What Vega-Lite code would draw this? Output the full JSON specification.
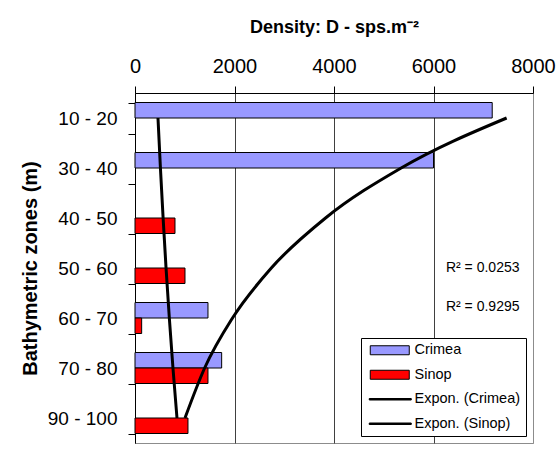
{
  "$schema": "https://vega.github.io/schema/vega-lite/v6.json",
  "width": 398,
  "height": 350,
  "autosize": {"type": "none"},
  "padding": {"left": 135, "top": 93, "right": 24, "bottom": 15},
  "background": "white",
  "config": {
    "view": {"stroke": "#8c8c8c", "strokeWidth": 1},
    "font": "Liberation Sans"
  },
  "layer": [
    {
      "data": {
        "values": [
          {"zone": "10 - 20", "site": "Crimea", "density": 7180},
          {"zone": "30 - 40", "site": "Crimea", "density": 6000},
          {"zone": "60 - 70", "site": "Crimea", "density": 1467},
          {"zone": "70 - 80", "site": "Crimea", "density": 1742},
          {"zone": "40 - 50", "site": "Sinop", "density": 804},
          {"zone": "50 - 60", "site": "Sinop", "density": 1005},
          {"zone": "60 - 70", "site": "Sinop", "density": 134},
          {"zone": "70 - 80", "site": "Sinop", "density": 1467},
          {"zone": "90 - 100", "site": "Sinop", "density": 1065}
        ]
      },
      "mark": {"type": "bar", "stroke": "black", "strokeWidth": 1},
      "encoding": {
        "y": {
          "field": "zone",
          "type": "nominal",
          "scale": {
            "domain": ["10 - 20", "30 - 40", "40 - 50", "50 - 60", "60 - 70", "70 - 80", "90 - 100"],
            "paddingInner": 0.38,
            "paddingOuter": 0.19
          },
          "axis": {
            "title": "Bathymetric zones (m)",
            "titleFontSize": 20,
            "titleFontWeight": "bold",
            "titleColor": "black",
            "titlePadding": 7,
            "labelFontSize": 19,
            "labelColor": "black",
            "labelPadding": 11,
            "tickSize": 7,
            "tickBand": "extent",
            "tickColor": "black",
            "domainColor": "black",
            "grid": false
          }
        },
        "yOffset": {
          "field": "site",
          "type": "nominal",
          "scale": {"domain": ["Crimea", "Sinop"], "paddingInner": 0, "paddingOuter": 0}
        },
        "x": {
          "field": "density",
          "type": "quantitative",
          "scale": {"domain": [0, 8000], "nice": false},
          "axis": {
            "orient": "top",
            "values": [0, 2000, 4000, 6000, 8000],
            "format": "d",
            "title": "Density: D - sps.m⁻²",
            "titleFontSize": 18,
            "titleFontWeight": "bold",
            "titleColor": "black",
            "titlePadding": 20,
            "labelFontSize": 20,
            "labelColor": "black",
            "labelPadding": 10,
            "labelFlush": false,
            "labelOverlap": false,
            "tickSize": 7,
            "tickColor": "black",
            "domainColor": "black",
            "grid": true,
            "gridColor": {"condition": {"test": "datum.value === 8000", "value": "#8c8c8c"}, "value": "#404040"},
            "gridOpacity": 1
          }
        },
        "color": {
          "field": "site",
          "type": "nominal",
          "scale": {
            "domain": ["Crimea", "Sinop", "Expon. (Crimea)", "Expon. (Sinop)"],
            "range": ["#9999FF", "#FF0000", "#000000", "#000000"]
          },
          "legend": {
            "orient": "none",
            "legendX": 226,
            "legendY": 245,
            "title": null,
            "direction": "vertical",
            "fillColor": "white",
            "strokeColor": "black",
            "padding": 5,
            "labelFontSize": 14.5,
            "labelColor": "black",
            "symbolSize": 100,
            "symbolStrokeColor": "black",
            "symbolStrokeWidth": 1,
            "symbolOpacity": 1,
            "labelOffset": 34,
            "rowPadding": 9.5,
            "encode": {
              "symbols": {
                "update": {
                  "shape": {"signal": "datum.value === 'Crimea' || datum.value === 'Sinop' ? 'M-0.6,-0.9H7.2V0.9H-0.6Z' : 'M-0.8,-0.15H7.6V0.15H-0.8Z'"}
                }
              }
            }
          }
        }
      }
    },
    {
      "data": {
        "values": [
          {"zone": "10 - 20", "k": 1, "trend": "Expon. (Crimea)", "density": 7470},
          {"zone": "30 - 40", "k": 2, "trend": "Expon. (Crimea)", "density": 5350},
          {"zone": "40 - 50", "k": 3, "trend": "Expon. (Crimea)", "density": 3830},
          {"zone": "50 - 60", "k": 4, "trend": "Expon. (Crimea)", "density": 2740},
          {"zone": "60 - 70", "k": 5, "trend": "Expon. (Crimea)", "density": 1960},
          {"zone": "70 - 80", "k": 6, "trend": "Expon. (Crimea)", "density": 1400},
          {"zone": "90 - 100", "k": 7, "trend": "Expon. (Crimea)", "density": 1005},
          {"zone": "10 - 20", "k": 1, "trend": "Expon. (Sinop)", "density": 462},
          {"zone": "30 - 40", "k": 2, "trend": "Expon. (Sinop)", "density": 511},
          {"zone": "40 - 50", "k": 3, "trend": "Expon. (Sinop)", "density": 565},
          {"zone": "50 - 60", "k": 4, "trend": "Expon. (Sinop)", "density": 624},
          {"zone": "60 - 70", "k": 5, "trend": "Expon. (Sinop)", "density": 690},
          {"zone": "70 - 80", "k": 6, "trend": "Expon. (Sinop)", "density": 763},
          {"zone": "90 - 100", "k": 7, "trend": "Expon. (Sinop)", "density": 844}
        ]
      },
      "mark": {"type": "line", "color": "black", "strokeWidth": 3, "interpolate": "monotone"},
      "encoding": {
        "y": {"field": "zone", "type": "nominal"},
        "x": {"field": "density", "type": "quantitative"},
        "detail": {"field": "trend", "type": "nominal"},
        "order": {"field": "k", "type": "quantitative"}
      }
    },
    {
      "data": {"values": [{"label": "R² = 0.0253", "zone": "50 - 60", "density": 6250}]},
      "mark": {"type": "text", "align": "left", "baseline": "middle", "fontSize": 14, "color": "black"},
      "encoding": {
        "y": {"field": "zone", "type": "nominal"},
        "x": {"field": "density", "type": "quantitative"},
        "text": {"field": "label"}
      }
    },
    {
      "data": {"values": [{"label": "R² = 0.9295", "zone": "60 - 70", "density": 6250}]},
      "mark": {"type": "text", "align": "left", "baseline": "middle", "fontSize": 14, "color": "black", "dy": -11},
      "encoding": {
        "y": {"field": "zone", "type": "nominal"},
        "x": {"field": "density", "type": "quantitative"},
        "text": {"field": "label"}
      }
    }
  ]
}
